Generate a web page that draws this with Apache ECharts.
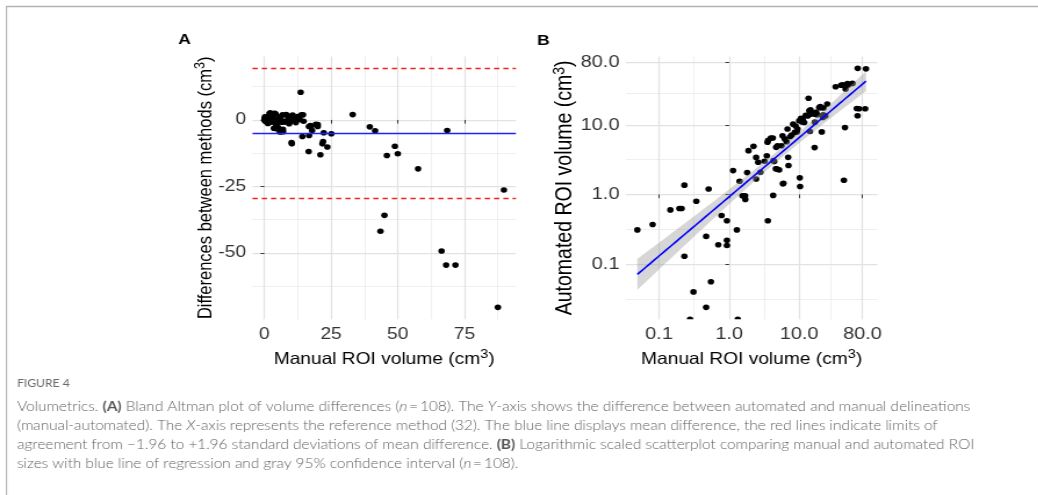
<!DOCTYPE html>
<html>
<head>
<meta charset="utf-8">
<title>Volumetrics</title>
<script src="https://cdn.jsdelivr.net/npm/echarts@6/dist/echarts.min.js"></script>
<style>
  html, body { margin: 0; padding: 0; background: #fff; overflow: hidden; }
  #figure { height: 495px; transform-origin: 0 0; }
</style>
</head>
<body>
<div id="figure"></div>
<script>
// ROI volumes (cm³), one entry per ROI: manual reference delineation and automated result
const manualVolume = [
  0.049, 0.081, 0.145, 0.195, 0.21, 0.23, 0.23, 0.277, 0.31, 0.34,
  0.47, 0.47, 0.51, 0.55, 0.70, 0.78, 0.93, 0.93, 0.93, 1.14,
  1.29, 1.33, 1.41, 1.55, 1.69, 1.70, 1.81, 1.89, 2.23, 2.43,
  2.43, 2.6, 2.8, 3.2, 3.45, 3.53, 3.57, 3.61, 3.94, 4.2,
  4.25, 4.3, 4.4, 4.64, 4.69, 4.75, 4.9, 5.18, 5.6, 5.78,
  5.85, 5.97, 6.2, 6.6, 6.81, 6.96, 7.04, 7.43, 7.8, 8.2,
  8.67, 8.9, 9.3, 9.47, 10.0, 10.2, 10.3, 10.6, 11.0, 11.2,
  11.8, 12.4, 13.2, 13.6, 13.9, 14.25, 14.5, 14.7, 16.6, 16.7,
  16.75, 17.25, 17.5, 17.9, 19.3, 20.0, 20.0, 21.0, 21.75, 22.0,
  22.25, 23.6, 25.1, 33.1, 39.5, 41.5, 43.5, 45.0, 45.9, 48.9,
  50.0, 57.6, 66.4, 68.1, 68.5, 71.6, 87.5, 89.75
];
const automatedVolume = [
  0.31, 0.37, 0.60, 0.63, 0.63, 1.36, 0.13, 0, 0.040, 0.80,
  0.25, 0.024, 1.2, 0.056, 0.19, 0.50, 0.42, 0.22, 0.185, 2.2,
  0.31, 0, 1.55, 0.96, 0.96, 0.85, 2.06, 4.25, 4.9, 3.4,
  1.67, 2.9, 2.08, 3.0, 3.6, 5.6, 0.42, 6.0, 6.45, 6.45,
  0.97, 3.06, 2.96, 2.33, 4.74, 2.33, 5.0, 2.25, 5.0, 6.96,
  1.42, 1.45, 6.3, 5.7, 8.7, 3.41, 2.6, 6.74, 7.1, 10.2,
  7.77, 9.6, 7.9, 8.67, 11.4, 1.73, 1.3, 12.4, 11.0, 12.05,
  10.8, 13.7, 13.4, 24.0, 15.85, 8.0, 16.4, 14.2, 4.7, 14.2,
  10.9, 15.1, 15.0, 13.9, 17.7, 18.3, 17.5, 7.9, 12.75, 13.9,
  17.4, 13.4, 19.9, 35.1, 36.9, 37.4, 1.6, 9.1, 32.5, 39.0,
  37.25, 39.2, 17.1, 13.5, 64.5, 17.0, 17.0, 63.4
];

// Bland–Altman summary lines (cm³): mean difference and limits of agreement
const meanDifference = -5.0;
const agreementLimits = [-29.4, 19.4];

// Axis breaks
const manualBreaks = [0, 25, 50, 75];
const differenceBreaks = [-50, -25, 0];
const logBreaks = [0.1, 1, 10, 80];

// Caption
const captionHeading = 'FIGURE 4';
const captionLines = [
  'Volumetrics. {b|(A)} Bland Altman plot of volume differences ({i|n}\u2009=\u2009108). The {i|Y}-axis shows the difference between automated and manual delineations',
  '(manual-automated). The {i|X}-axis represents the reference method (32). The blue line displays mean difference, the red lines indicate limits of',
  'agreement from \u22121.96 to +1.96 standard deviations of mean difference. {b|(B)} Logarithmic scaled scatterplot comparing manual and automated ROI',
  'sizes with blue line of regression and gray 95% confidence interval ({i|n}\u2009=\u2009108).'
];

// The figure is laid out on a narrower canvas that is widened horizontally on the page
const STRETCH = 1.16;
const PAGE_W = 1038, PAGE_H = 495;
const CANVAS_W = PAGE_W / STRETCH;
const cx = x => x / STRETCH;          // page x -> canvas x
const holder = document.getElementById('figure');
holder.style.width = CANVAS_W + 'px';
holder.style.transform = 'scaleX(' + STRETCH + ')';

const FONT = 'Liberation Sans';
const TEXT_SIZE = 16.5;

// ---------- helpers ----------
const expand = (lo, hi, f = 0.05) => [lo - (hi - lo) * f, hi + (hi - lo) * f];
const minOf = a => Math.min.apply(null, a);
const maxOf = a => Math.max.apply(null, a);

// minor breaks halfway between majors, one extra step at each end, kept inside the range
function minorBreaks(majors, range) {
  const b = majors.slice();
  b.unshift(b[0] - (b[1] - b[0]));
  const n = b.length;
  b.push(b[n - 1] + (b[n - 1] - b[n - 2]));
  const out = [];
  for (let i = 0; i < b.length - 1; i++) {
    const m = (b[i] + b[i + 1]) / 2;
    if (m > range[0] && m < range[1]) out.push(m);
  }
  return out;
}

function linearFit(pts) {
  const n = pts.length;
  const mx = pts.reduce((s, p) => s + p[0], 0) / n;
  const my = pts.reduce((s, p) => s + p[1], 0) / n;
  let sxx = 0, sxy = 0;
  pts.forEach(([x, y]) => { sxx += (x - mx) ** 2; sxy += (x - mx) * (y - my); });
  const slope = sxy / sxx, intercept = my - slope * mx;
  let sse = 0;
  pts.forEach(([x, y]) => { const r = y - (intercept + slope * x); sse += r * r; });
  return { n, mx, sxx, slope, intercept, sigma: Math.sqrt(sse / (n - 2)) };
}
function tQuantile975(df) {
  const z = 1.959964;
  return z + (z ** 3 + z) / (4 * df) + (5 * z ** 5 + 16 * z ** 3 + 3 * z) / (96 * df * df);
}

// ---------- panel A: Bland–Altman ----------
const diffPoints = manualVolume.map((m, i) => [m, +(automatedVolume[i] - m).toFixed(4)]);
const aX = expand(minOf(manualVolume), maxOf(manualVolume));
const diffs = diffPoints.map(p => p[1]).concat(agreementLimits, [meanDifference]);
const aY = expand(minOf(diffs), maxOf(diffs));

// ---------- panel B: log–log scatter with regression ----------
const logManual = manualVolume.map(v => Math.log10(v));
const finitePairs = [], floorX = [];
manualVolume.forEach((m, i) => {
  if (automatedVolume[i] > 0) finitePairs.push([Math.log10(m), Math.log10(automatedVolume[i])]);
  else floorX.push(Math.log10(m));
});
const bX = expand(minOf(logManual), maxOf(logManual));
const bY = expand(minOf(finitePairs.map(p => p[1])), maxOf(finitePairs.map(p => p[1])));
const floorPoints = floorX.map(x => [x, bY[0]]);

const fit = linearFit(finitePairs);
const tq = tQuantile975(fit.n - 2);
const fx0 = minOf(finitePairs.map(p => p[0])), fx1 = maxOf(finitePairs.map(p => p[0]));
const fitLine = [], fitBand = [];
for (let k = 0; k < 80; k++) {
  const x = fx0 + (fx1 - fx0) * k / 79;
  const yh = fit.intercept + fit.slope * x;
  const se = fit.sigma * Math.sqrt(1 / fit.n + (x - fit.mx) ** 2 / fit.sxx);
  fitLine.push([x, yh]);
  fitBand.push([x, yh - tq * se, yh + tq * se]);
}
const logBreakValues = logBreaks.map(v => Math.log10(v));

// ---------- shared styles ----------
const GRID_MAJOR = { color: '#E2E2E2', width: 1.25, type: 'solid' };
const GRID_MINOR = { color: '#EBEBEB', width: 0.8, type: 'solid' };
const tickStyle = { show: true, length: 3.7, lineStyle: { color: '#333333', width: 1 } };
const labelStyle = { fontFamily: FONT, fontSize: TEXT_SIZE, color: '#333333' };
const labelStyleB = Object.assign({}, labelStyle, { fontSize: 17.2 });
function titleStyle(size, supSize) {
  return {
    fontFamily: FONT, fontSize: size, color: '#000000', lineHeight: 24,
    rich: { sup: { fontFamily: FONT, fontSize: supSize, color: '#000000', lineHeight: 12, verticalAlign: 'top' } }
  };
}
const DOT_SIZE = 5.6;

function gridLineData(xMajor, xMinor, yMajor, yMinor) {
  const d = [];
  xMinor.forEach(v => d.push({ xAxis: v, lineStyle: GRID_MINOR }));
  yMinor.forEach(v => d.push({ yAxis: v, lineStyle: GRID_MINOR }));
  xMajor.forEach(v => d.push({ xAxis: v, lineStyle: GRID_MAJOR }));
  yMajor.forEach(v => d.push({ yAxis: v, lineStyle: GRID_MAJOR }));
  return d;
}
function gridCarrier(idx, data) {
  return {
    type: 'line', xAxisIndex: idx, yAxisIndex: idx, data: [], silent: true,
    markLine: { silent: true, z: 0, symbol: ['none', 'none'], label: { show: false },
      emphasis: { disabled: true }, animation: false, data }
  };
}

function valueAxis(idx, range, breaks, extra) {
  return Object.assign({
    type: 'value', gridIndex: idx, min: range[0], max: range[1],
    axisLine: { show: false }, splitLine: { show: false },
    axisTick: Object.assign({ customValues: breaks }, tickStyle),
    axisLabel: Object.assign({ customValues: breaks }, labelStyle),
    nameLocation: 'middle', nameMoveOverlap: false, nameTextStyle: titleStyle(TEXT_SIZE, 12.5)
  }, extra);
}

// panel placement (page px)
const PLOT_TOP = 56.4, PLOT_H = 262.9;
const A_LEFT = 252.2, A_W = 263.1;
const B_LEFT = 625.2, B_W = 251.2;

const logLabel = v => (10 ** v).toFixed(1);

const option = {
  animation: false,
  backgroundColor: '#ffffff',
  grid: [
    { left: cx(A_LEFT), top: PLOT_TOP, width: cx(A_W), height: PLOT_H },
    { left: cx(B_LEFT), top: PLOT_TOP, width: cx(B_W), height: PLOT_H }
  ],
  xAxis: [
    valueAxis(0, aX, manualBreaks, {
      axisLabel: Object.assign({ customValues: manualBreaks, margin: 6.5 }, labelStyle),
      name: 'Manual ROI volume (cm{sup|3})', nameGap: 28.5
    }),
    valueAxis(1, bX, logBreakValues, {
      axisLabel: Object.assign({ customValues: logBreakValues, margin: 6.5, formatter: logLabel }, labelStyleB),
      name: 'Manual ROI volume (cm{sup|3})', nameGap: 28.5
    })
  ],
  yAxis: [
    valueAxis(0, aY, differenceBreaks, {
      axisTick: Object.assign({ customValues: differenceBreaks }, tickStyle, { length: cx(3.7) }),
      axisLabel: Object.assign({ customValues: differenceBreaks, margin: cx(6.4) }, labelStyle),
      name: 'Differences between methods (cm{sup|3})', nameGap: cx(32)
    }),
    valueAxis(1, bY, logBreakValues, {
      axisTick: Object.assign({ customValues: logBreakValues }, tickStyle, { length: cx(3.7) }),
      axisLabel: Object.assign({ customValues: logBreakValues, margin: cx(6.4), formatter: logLabel }, labelStyleB),
      name: 'Automated ROI volume (cm{sup|3})', nameGap: cx(46.5),
      nameTextStyle: titleStyle(19.5, 14)
    })
  ],
  graphic: [],
  series: [
    gridCarrier(0, gridLineData(manualBreaks, minorBreaks(manualBreaks, aX),
      differenceBreaks, minorBreaks(differenceBreaks, aY))),
    gridCarrier(1, gridLineData(logBreakValues, minorBreaks(logBreakValues, bX),
      logBreakValues, minorBreaks(logBreakValues, bY))),
    {
      name: 'difference', type: 'scatter', xAxisIndex: 0, yAxisIndex: 0, z: 2,
      symbol: 'circle', symbolSize: DOT_SIZE, itemStyle: { color: '#000000', opacity: 1 },
      data: diffPoints, silent: true
    },
    {
      name: 'limits', type: 'line', xAxisIndex: 0, yAxisIndex: 0, data: [], z: 5, silent: true,
      markLine: {
        silent: true, z: 5, symbol: ['none', 'none'], label: { show: false }, animation: false,
        emphasis: { disabled: true },
        data: [
          { yAxis: meanDifference, lineStyle: { color: '#2020FF', width: 1.4, type: 'solid' } },
          { yAxis: agreementLimits[0], lineStyle: { color: '#F02020', width: 1.3, type: [4.5, 3.5] } },
          { yAxis: agreementLimits[1], lineStyle: { color: '#F02020', width: 1.3, type: [4.5, 3.5] } }
        ]
      }
    },
    {
      name: 'volumes', type: 'scatter', xAxisIndex: 1, yAxisIndex: 1, z: 2,
      symbol: 'circle', symbolSize: DOT_SIZE, itemStyle: { color: '#000000', opacity: 1 },
      data: finitePairs, silent: true
    },
    {
      name: 'zero automated volume', type: 'scatter', xAxisIndex: 1, yAxisIndex: 1, z: 2,
      symbol: 'path://M0,10A10,10,0,0,1,20,10Z', symbolSize: [DOT_SIZE, DOT_SIZE / 2],
      symbolOffset: [0, -DOT_SIZE / 4],
      itemStyle: { color: '#000000', opacity: 1 }, data: floorPoints, silent: true
    },
    {
      name: 'confidence band', type: 'custom', xAxisIndex: 1, yAxisIndex: 1, z: 3, silent: true,
      data: fitBand, encode: { x: 0, y: [1, 2] },
      renderItem: (params, api) => {
        if (params.dataIndex !== 0) return null;
        const upper = fitBand.map(d => api.coord([d[0], d[2]]));
        const lower = fitBand.map(d => api.coord([d[0], d[1]])).reverse();
        return { type: 'polygon', shape: { points: upper.concat(lower) },
          style: { fill: 'rgba(153,153,153,0.4)' } };
      }
    },
    {
      name: 'regression', type: 'line', xAxisIndex: 1, yAxisIndex: 1, z: 4, silent: true,
      data: fitLine, showSymbol: false, symbol: 'none',
      lineStyle: { color: '#0000FF', width: 1.6 }
    }
  ]
};

// panel tags, frame and caption
const measureCtx = document.createElement('canvas').getContext('2d');
const CAPTION_FONT = 'Lato';
const CAPTION_SIZE = 14;
measureCtx.font = '300 ' + CAPTION_SIZE + 'px ' + CAPTION_FONT;
const plain = s => s.replace(/\{\w+\|([^}]*)\}/g, '$1');
const captionScale = cx(968 - 17) / measureCtx.measureText(plain(captionLines[0])).width;

const captionRich = {
  b: { fontFamily: CAPTION_FONT, fontSize: CAPTION_SIZE, fontWeight: 'bold', fill: '#555555' },
  i: { fontFamily: CAPTION_FONT, fontSize: CAPTION_SIZE, fontWeight: 300, fontStyle: 'italic', fill: '#606060' }
};
const captionY = [406, 425, 444, 463];

option.graphic = [
  { type: 'line', silent: true, shape: { x1: cx(6), y1: 6.5, x2: CANVAS_W, y2: 6.5 },
    style: { stroke: '#B3B3B3', lineWidth: 1.3 } },
  { type: 'line', silent: true, shape: { x1: cx(6.5), y1: 6.5, x2: cx(6.5), y2: PAGE_H },
    style: { stroke: '#B3B3B3', lineWidth: 1.3 / STRETCH } },
  { type: 'text', silent: true, x: cx(178), y: 40,
    style: { text: 'A', fontFamily: FONT, fontSize: 15, fontWeight: 'bold', fill: '#000', verticalAlign: 'middle' } },
  { type: 'text', silent: true, x: cx(536.5), y: 41,
    style: { text: 'B', fontFamily: FONT, fontSize: 15, fontWeight: 'bold', fill: '#000', verticalAlign: 'middle' } },
  { type: 'text', silent: true, x: cx(17), y: 383, scaleX: captionScale,
    style: { text: captionHeading, fontFamily: CAPTION_FONT, fontSize: 11, fill: '#6A6A6A', verticalAlign: 'middle' } }
].concat(captionLines.map((line, k) => ({
  type: 'text', silent: true, x: cx(17), y: captionY[k], scaleX: captionScale,
  style: { text: line, rich: captionRich, fontFamily: CAPTION_FONT, fontSize: CAPTION_SIZE, fontWeight: 300,
    fill: '#606060', verticalAlign: 'middle' }
})));

const chart = echarts.init(holder, null, { renderer: 'canvas', width: CANVAS_W, height: PAGE_H });
chart.setOption(option);
</script>
</body>
</html>
